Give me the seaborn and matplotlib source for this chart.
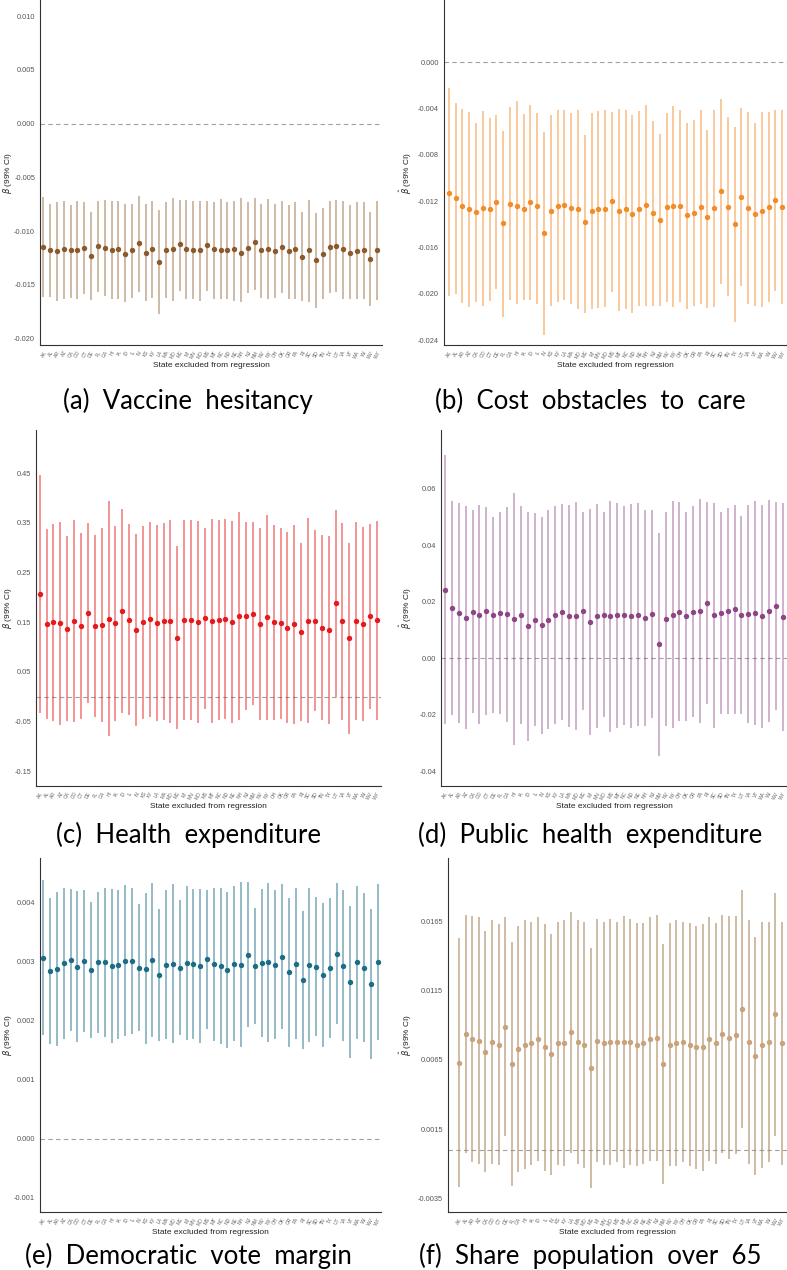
import numpy as np
import pandas as pd
import matplotlib
matplotlib.use('Agg')
import matplotlib.pyplot as plt
import seaborn as sns

states = ['AK', 'AL', 'AR', 'AZ', 'CA', 'CO', 'CT', 'DE', 'FL', 'GA', 'HI', 'IA', 'ID', 'IL', 'IN',
          'KS', 'KY', 'LA', 'MA', 'MD', 'ME', 'MI', 'MN', 'MO', 'MS', 'MT', 'NC', 'ND', 'NE', 'NH',
          'NJ', 'NM', 'NV', 'NY', 'OH', 'OK', 'OR', 'PA', 'RI', 'SC', 'SD', 'TN', 'TX', 'UT', 'VA',
          'VT', 'WA', 'WI', 'WV', 'WY']

# (a) vaccine hesitancy
vax_est = [-0.0115, -0.0118, -0.0119, -0.0117, -0.0118, -0.0118, -0.0116, -0.0123, -0.0114, -0.0116,
           -0.0118, -0.0117, -0.0121, -0.0118, -0.0111, -0.0120, -0.0117, -0.0129, -0.0118, -0.0117,
           -0.0112, -0.0117, -0.0118, -0.0118, -0.0113, -0.0117, -0.0118, -0.0118, -0.0117, -0.0120,
           -0.0116, -0.0110, -0.0118, -0.0117, -0.0119, -0.0115, -0.0119, -0.0117, -0.0124, -0.0118,
           -0.0127, -0.0121, -0.0115, -0.0114, -0.0117, -0.0120, -0.0119, -0.0118, -0.0126, -0.0118]
vax_hi = [-0.00685, -0.00747, -0.00731, -0.00719, -0.00762, -0.00722, -0.00728, -0.00821, -0.00722, -0.00713,
          -0.00722, -0.00722, -0.00750, -0.00747, -0.00670, -0.00747, -0.00716, -0.00802, -0.00728, -0.00691,
          -0.00710, -0.00710, -0.00722, -0.00719, -0.00719, -0.00725, -0.00704, -0.00731, -0.00719, -0.00688,
          -0.00728, -0.00688, -0.00744, -0.00700, -0.00750, -0.00719, -0.00756, -0.00725, -0.00827, -0.00710,
          -0.00833, -0.00781, -0.00719, -0.00710, -0.00719, -0.00762, -0.00728, -0.00731, -0.00824, -0.00719]
vax_lo = [-0.01617, -0.01613, -0.01650, -0.01632, -0.01623, -0.01635, -0.01583, -0.01638, -0.01567, -0.01607,
          -0.01632, -0.01629, -0.01656, -0.01623, -0.01564, -0.01653, -0.01623, -0.01773, -0.01623, -0.01653,
          -0.01561, -0.01629, -0.01629, -0.01650, -0.01555, -0.01629, -0.01629, -0.01629, -0.01650, -0.01660,
          -0.01577, -0.01552, -0.01620, -0.01629, -0.01623, -0.01577, -0.01629, -0.01629, -0.01650, -0.01660,
          -0.01712, -0.01629, -0.01577, -0.01567, -0.01629, -0.01629, -0.01629, -0.01629, -0.01699, -0.01638]

# (b) cost obstacles to care
cost_est = [-0.0113, -0.0117, -0.0124, -0.0127, -0.0129, -0.0126, -0.0127, -0.0121, -0.0139, -0.0122,
            -0.0124, -0.0127, -0.0121, -0.0124, -0.0147, -0.0128, -0.0124, -0.0123, -0.0126, -0.0127,
            -0.0138, -0.0128, -0.0127, -0.0127, -0.0120, -0.0128, -0.0127, -0.0131, -0.0127, -0.0123,
            -0.0130, -0.0136, -0.0125, -0.0124, -0.0124, -0.0132, -0.0130, -0.0125, -0.0134, -0.0126,
            -0.0111, -0.0125, -0.0140, -0.0116, -0.0126, -0.0131, -0.0128, -0.0125, -0.0119, -0.0125]
cost_hi = [-0.00227, -0.00351, -0.00403, -0.00429, -0.00524, -0.00420, -0.00483, -0.00460, -0.00593, -0.00391,
           -0.00334, -0.00449, -0.00371, -0.00437, -0.00601, -0.00460, -0.00409, -0.00414, -0.00437, -0.00414,
           -0.00625, -0.00443, -0.00423, -0.00414, -0.00426, -0.00406, -0.00409, -0.00460, -0.00420, -0.00374,
           -0.00512, -0.00622, -0.00443, -0.00380, -0.00414, -0.00527, -0.00498, -0.00412, -0.00584, -0.00409,
           -0.00314, -0.00475, -0.00561, -0.00394, -0.00432, -0.00527, -0.00432, -0.00429, -0.00409, -0.00414]
cost_lo = [-0.0202, -0.0200, -0.0208, -0.0211, -0.0207, -0.0210, -0.0206, -0.0196, -0.0220, -0.0205,
           -0.0209, -0.0205, -0.0205, -0.0209, -0.0235, -0.0210, -0.0207, -0.0205, -0.0209, -0.0213,
           -0.0216, -0.0213, -0.0212, -0.0211, -0.0198, -0.0215, -0.0213, -0.0216, -0.0210, -0.0210,
           -0.0210, -0.0210, -0.0207, -0.0211, -0.0207, -0.0213, -0.0210, -0.0209, -0.0212, -0.0211,
           -0.0191, -0.0202, -0.0224, -0.0193, -0.0209, -0.0210, -0.0211, -0.0207, -0.0197, -0.0209]

# (c) health expenditure
hexp_est = [0.2074, 0.1460, 0.1493, 0.1473, 0.1372, 0.1520, 0.1426, 0.1689, 0.1426, 0.1439,
            0.1568, 0.1473, 0.1730, 0.1547, 0.1345, 0.1500, 0.1554, 0.1480, 0.1514, 0.1514,
            0.1189, 0.1541, 0.1541, 0.1500, 0.1574, 0.1514, 0.1541, 0.1561, 0.1500, 0.1622,
            0.1628, 0.1669, 0.1466, 0.1595, 0.1500, 0.1473, 0.1392, 0.1453, 0.1304, 0.1527,
            0.1527, 0.1392, 0.1338, 0.1878, 0.1520, 0.1176, 0.1520, 0.1460, 0.1615, 0.1534]
hexp_hi = [0.4473, 0.3378, 0.3486, 0.3527, 0.3230, 0.3554, 0.3304, 0.3500, 0.3264, 0.3399,
           0.3932, 0.3439, 0.3784, 0.3473, 0.3284, 0.3446, 0.3520, 0.3453, 0.3493, 0.3554,
           0.3034, 0.3554, 0.3554, 0.3540, 0.3399, 0.3568, 0.3554, 0.3574, 0.3534, 0.3716,
           0.3520, 0.3514, 0.3405, 0.3662, 0.3466, 0.3399, 0.3324, 0.3460, 0.3095, 0.3588,
           0.3351, 0.3257, 0.3236, 0.3757, 0.3507, 0.3095, 0.3520, 0.3412, 0.3480, 0.3534]
hexp_lo = [-0.0325, -0.0458, -0.0500, -0.0581, -0.0486, -0.0514, -0.0452, -0.0122, -0.0412, -0.0521,
           -0.0796, -0.0493, -0.0324, -0.0379, -0.0594, -0.0446, -0.0412, -0.0493, -0.0465, -0.0526,
           -0.0656, -0.0472, -0.0472, -0.0540, -0.0251, -0.0540, -0.0472, -0.0452, -0.0534, -0.0472,
           -0.0264, -0.0176, -0.0473, -0.0472, -0.0466, -0.0453, -0.0540, -0.0554, -0.0487, -0.0534,
           -0.0297, -0.0473, -0.0560, -0.0001, -0.0467, -0.0743, -0.0480, -0.0492, -0.0250, -0.0466]

# (d) public health expenditure
pub_est = [0.0243, 0.0177, 0.0160, 0.0144, 0.0165, 0.0154, 0.0167, 0.0154, 0.0161, 0.0155,
           0.0139, 0.0152, 0.0113, 0.0137, 0.0117, 0.0137, 0.0154, 0.0163, 0.0149, 0.0150,
           0.0167, 0.0129, 0.0148, 0.0154, 0.0148, 0.0152, 0.0152, 0.0150, 0.0154, 0.0143,
           0.0157, 0.0049, 0.0139, 0.0154, 0.0165, 0.0149, 0.0165, 0.0167, 0.0196, 0.0152,
           0.0161, 0.0168, 0.0174, 0.0152, 0.0156, 0.0160, 0.0148, 0.0168, 0.0185, 0.0146]
pub_hi = [0.0720, 0.0556, 0.0551, 0.0538, 0.0524, 0.0542, 0.0536, 0.0502, 0.0518, 0.0536,
          0.0587, 0.0538, 0.0520, 0.0515, 0.0502, 0.0524, 0.0540, 0.0546, 0.0542, 0.0553,
          0.0519, 0.0530, 0.0545, 0.0517, 0.0556, 0.0551, 0.0540, 0.0546, 0.0549, 0.0527,
          0.0527, 0.0444, 0.0518, 0.0556, 0.0553, 0.0519, 0.0540, 0.0565, 0.0553, 0.0551,
          0.0518, 0.0532, 0.0544, 0.0503, 0.0543, 0.0558, 0.0543, 0.0561, 0.0555, 0.0551]
pub_lo = [-0.0234, -0.0202, -0.0231, -0.0250, -0.0194, -0.0234, -0.0202, -0.0194, -0.0196, -0.0226,
          -0.0309, -0.0234, -0.0294, -0.0241, -0.0268, -0.0250, -0.0232, -0.0220, -0.0244, -0.0253,
          -0.0185, -0.0272, -0.0249, -0.0209, -0.0260, -0.0247, -0.0236, -0.0246, -0.0241, -0.0241,
          -0.0213, -0.0346, -0.0240, -0.0248, -0.0223, -0.0221, -0.0210, -0.0231, -0.0161, -0.0247,
          -0.0196, -0.0196, -0.0196, -0.0199, -0.0231, -0.0238, -0.0247, -0.0225, -0.0185, -0.0259]

# (e) democratic vote margin
dem_est = [0.00307, 0.00285, 0.00288, 0.00298, 0.00303, 0.00292, 0.00301, 0.00286, 0.00299, 0.00299,
           0.00293, 0.00295, 0.00302, 0.00302, 0.00290, 0.00288, 0.00303, 0.00277, 0.00295, 0.00297,
           0.00290, 0.00298, 0.00297, 0.00293, 0.00304, 0.00296, 0.00293, 0.00286, 0.00297, 0.00295,
           0.00312, 0.00293, 0.00298, 0.00299, 0.00295, 0.00309, 0.00282, 0.00297, 0.00269, 0.00295,
           0.00292, 0.00277, 0.00290, 0.00314, 0.00293, 0.00266, 0.00299, 0.00290, 0.00262, 0.00300]
dem_hi = [0.00438, 0.00409, 0.00418, 0.00426, 0.00423, 0.00420, 0.00421, 0.00401, 0.00419, 0.00426,
          0.00423, 0.00421, 0.00430, 0.00426, 0.00398, 0.00416, 0.00433, 0.00389, 0.00421, 0.00432,
          0.00404, 0.00429, 0.00424, 0.00424, 0.00422, 0.00426, 0.00426, 0.00418, 0.00429, 0.00435,
          0.00435, 0.00392, 0.00423, 0.00434, 0.00421, 0.00432, 0.00408, 0.00425, 0.00386, 0.00426,
          0.00410, 0.00399, 0.00409, 0.00434, 0.00421, 0.00395, 0.00429, 0.00416, 0.00389, 0.00432]
dem_lo = [0.00176, 0.00161, 0.00158, 0.00170, 0.00183, 0.00164, 0.00181, 0.00171, 0.00179, 0.00172,
          0.00163, 0.00169, 0.00174, 0.00178, 0.00182, 0.00160, 0.00173, 0.00165, 0.00169, 0.00162,
          0.00176, 0.00167, 0.00170, 0.00162, 0.00186, 0.00166, 0.00160, 0.00154, 0.00165, 0.00155,
          0.00189, 0.00194, 0.00173, 0.00164, 0.00169, 0.00186, 0.00156, 0.00169, 0.00152, 0.00164,
          0.00174, 0.00155, 0.00171, 0.00194, 0.00165, 0.00137, 0.00169, 0.00164, 0.00135, 0.00168]

# (f) share population over 65
old_est = [0.0063, 0.0084, 0.0080, 0.0079, 0.0071, 0.0078, 0.0076, 0.0089, 0.0062, 0.0073,
           0.0076, 0.0077, 0.0080, 0.0074, 0.0069, 0.0077, 0.0077, 0.0085, 0.0078, 0.0076,
           0.0059, 0.0079, 0.0077, 0.0078, 0.0078, 0.0078, 0.0078, 0.0076, 0.0077, 0.0080,
           0.0081, 0.0062, 0.0076, 0.0077, 0.0078, 0.0076, 0.0074, 0.0074, 0.0080, 0.0077,
           0.0084, 0.0081, 0.0083, 0.0102, 0.0078, 0.0068, 0.0076, 0.0078, 0.0098, 0.0077]
old_hi = [0.0153, 0.0170, 0.0169, 0.0168, 0.0158, 0.0166, 0.0163, 0.0168, 0.0150, 0.0162,
          0.0166, 0.0165, 0.0168, 0.0163, 0.0156, 0.0165, 0.0166, 0.0172, 0.0166, 0.0165,
          0.0146, 0.0167, 0.0165, 0.0167, 0.0165, 0.0169, 0.0167, 0.0164, 0.0164, 0.0168,
          0.0170, 0.0149, 0.0164, 0.0166, 0.0165, 0.0164, 0.0162, 0.0163, 0.0168, 0.0164,
          0.0170, 0.0169, 0.0169, 0.0188, 0.0166, 0.0154, 0.0165, 0.0165, 0.0186, 0.0165]
old_lo = [-0.0027, -0.0002, -0.0009, -0.0010, -0.0016, -0.0010, -0.0011, 0.0010, -0.0026, -0.0016,
          -0.0014, -0.0011, -0.0008, -0.0015, -0.0018, -0.0011, -0.0012, -0.0002, -0.0010, -0.0013,
          -0.0028, -0.0009, -0.0011, -0.0011, -0.0009, -0.0013, -0.0011, -0.0012, -0.0010, -0.0008,
          -0.0008, -0.0025, -0.0012, -0.0012, -0.0009, -0.0012, -0.0014, -0.0015, -0.0008, -0.0010,
          -0.0002, -0.0007, -0.0003, 0.0016, -0.0010, -0.0018, -0.0013, -0.0009, 0.0010, -0.0011]

captions = ['(a)  Vaccine  hesitancy', '(b)  Cost  obstacles  to  care', '(c)  Health  expenditure',
            '(d)  Public  health  expenditure', '(e)  Democratic  vote  margin', '(f)  Share  population  over  65']

W, H = 787, 1270
sns.set_style('white')
plt.rcParams['font.family'] = ['Liberation Sans', 'DejaVu Sans']
fig = plt.figure(figsize=(W / 100, H / 100), dpi=100)


def draw_panel(box, est, lo, hi, color, bar_color, bar_alpha, ylim, yticks, fmt, xlim, caption, cap_y):
    left, right, top, bottom = box
    ax = fig.add_axes([left / W, 1 - bottom / H, (right - left) / W, (bottom - top) / H])
    df = pd.DataFrame({'state': states, 'pos': np.arange(len(states)), 'est': est, 'lo': lo, 'hi': hi})
    ax.axhline(0, color='#a0a0a0', lw=0.8, ls=(0, (4, 3)), zorder=1)
    ax.vlines(df['pos'], df['lo'], df['hi'], color=bar_color, alpha=bar_alpha, lw=1.3, zorder=2)
    sns.scatterplot(data=df, x='pos', y='est', color=color, s=15, linewidth=0, ax=ax, zorder=3)
    ax.set_xlim(*xlim)
    ax.set_ylim(*ylim)
    ax.set_yticks(yticks)
    ax.set_yticklabels([fmt % t for t in yticks])
    ax.set_xticks(df['pos'])
    ax.set_xticklabels(states, rotation=60, fontsize=3.6, ha='right', rotation_mode='anchor')
    ax.tick_params(axis='y', labelsize=5.3, length=2, width=0.5, pad=1.5, colors='#333333', labelcolor='#555555')
    ax.tick_params(axis='x', length=2, width=0.5, pad=1.5, colors='#333333', labelcolor='#666666')
    ax.set_ylabel(r'$\hat{\beta}$ (99% CI)', fontsize=6, color='#222222')
    label_x = 15 if left < 300 else 414
    ax.yaxis.set_label_coords((label_x - left) / (right - left), 0.5)
    ax.set_xlabel('State excluded from regression', fontsize=6, labelpad=2, color='#222222')
    sns.despine(ax=ax)
    for side in ['left', 'bottom']:
        ax.spines[side].set_color('#333333')
        ax.spines[side].set_linewidth(0.8)
    ax.grid(False)
    cx = 188 if left < 300 else 590
    fig.text(cx / W, 1 - cap_y / H, caption, ha='center', va='center', fontsize=18.5,
             family=['Lato', 'DejaVu Sans'], color='black')
    return ax


draw_panel((40, 382, 0, 345), vax_est, vax_lo, vax_hi, '#8B5A2B', '#8B5A2B', 0.45,
           (-0.0206, 0.0115), [0.010, 0.005, 0.0, -0.005, -0.010, -0.015, -0.020], '%.3f',
           (-0.5, 49.7), captions[0], 401)
draw_panel((444, 787, 0, 345), cost_est, cost_lo, cost_hi, '#F28C28', '#F28C28', 0.5,
           (-0.0244, 0.00536), [0.0, -0.004, -0.008, -0.012, -0.016, -0.020, -0.024], '%.3f',
           (-0.69, 49.7), captions[1], 401)
draw_panel((36, 381, 430, 786), hexp_est, hexp_lo, hexp_hi, '#E41A1C', '#E41A1C', 0.5,
           (-0.18, 0.537), [0.45, 0.35, 0.25, 0.15, 0.05, -0.05, -0.15], '%.2f',
           (-0.54, 49.6), captions[2], 835)
draw_panel((441, 787, 430, 786), pub_est, pub_lo, pub_hi, '#8E4585', '#8E4585', 0.45,
           (-0.0453, 0.0809), [0.06, 0.04, 0.02, 0.0, -0.02, -0.04], '%.2f',
           (-0.58, 49.6), captions[3], 835)
draw_panel((40, 381, 858, 1212), dem_est, dem_lo, dem_hi, '#1B6C86', '#1B6C86', 0.5,
           (-0.00124, 0.00476), [0.004, 0.003, 0.002, 0.001, 0.0, -0.001], '%.3f',
           (-0.48, 49.5), captions[4], 1256)
draw_panel((448, 787, 858, 1212), old_est, old_lo, old_hi, '#C9A37C', '#A8865F', 0.6,
           (-0.0045, 0.0211), [0.0165, 0.0115, 0.0065, 0.0015, -0.0035], '%.4f',
           (-1.67, 49.8), captions[5], 1256)

fig.savefig('out.png', dpi=100)
